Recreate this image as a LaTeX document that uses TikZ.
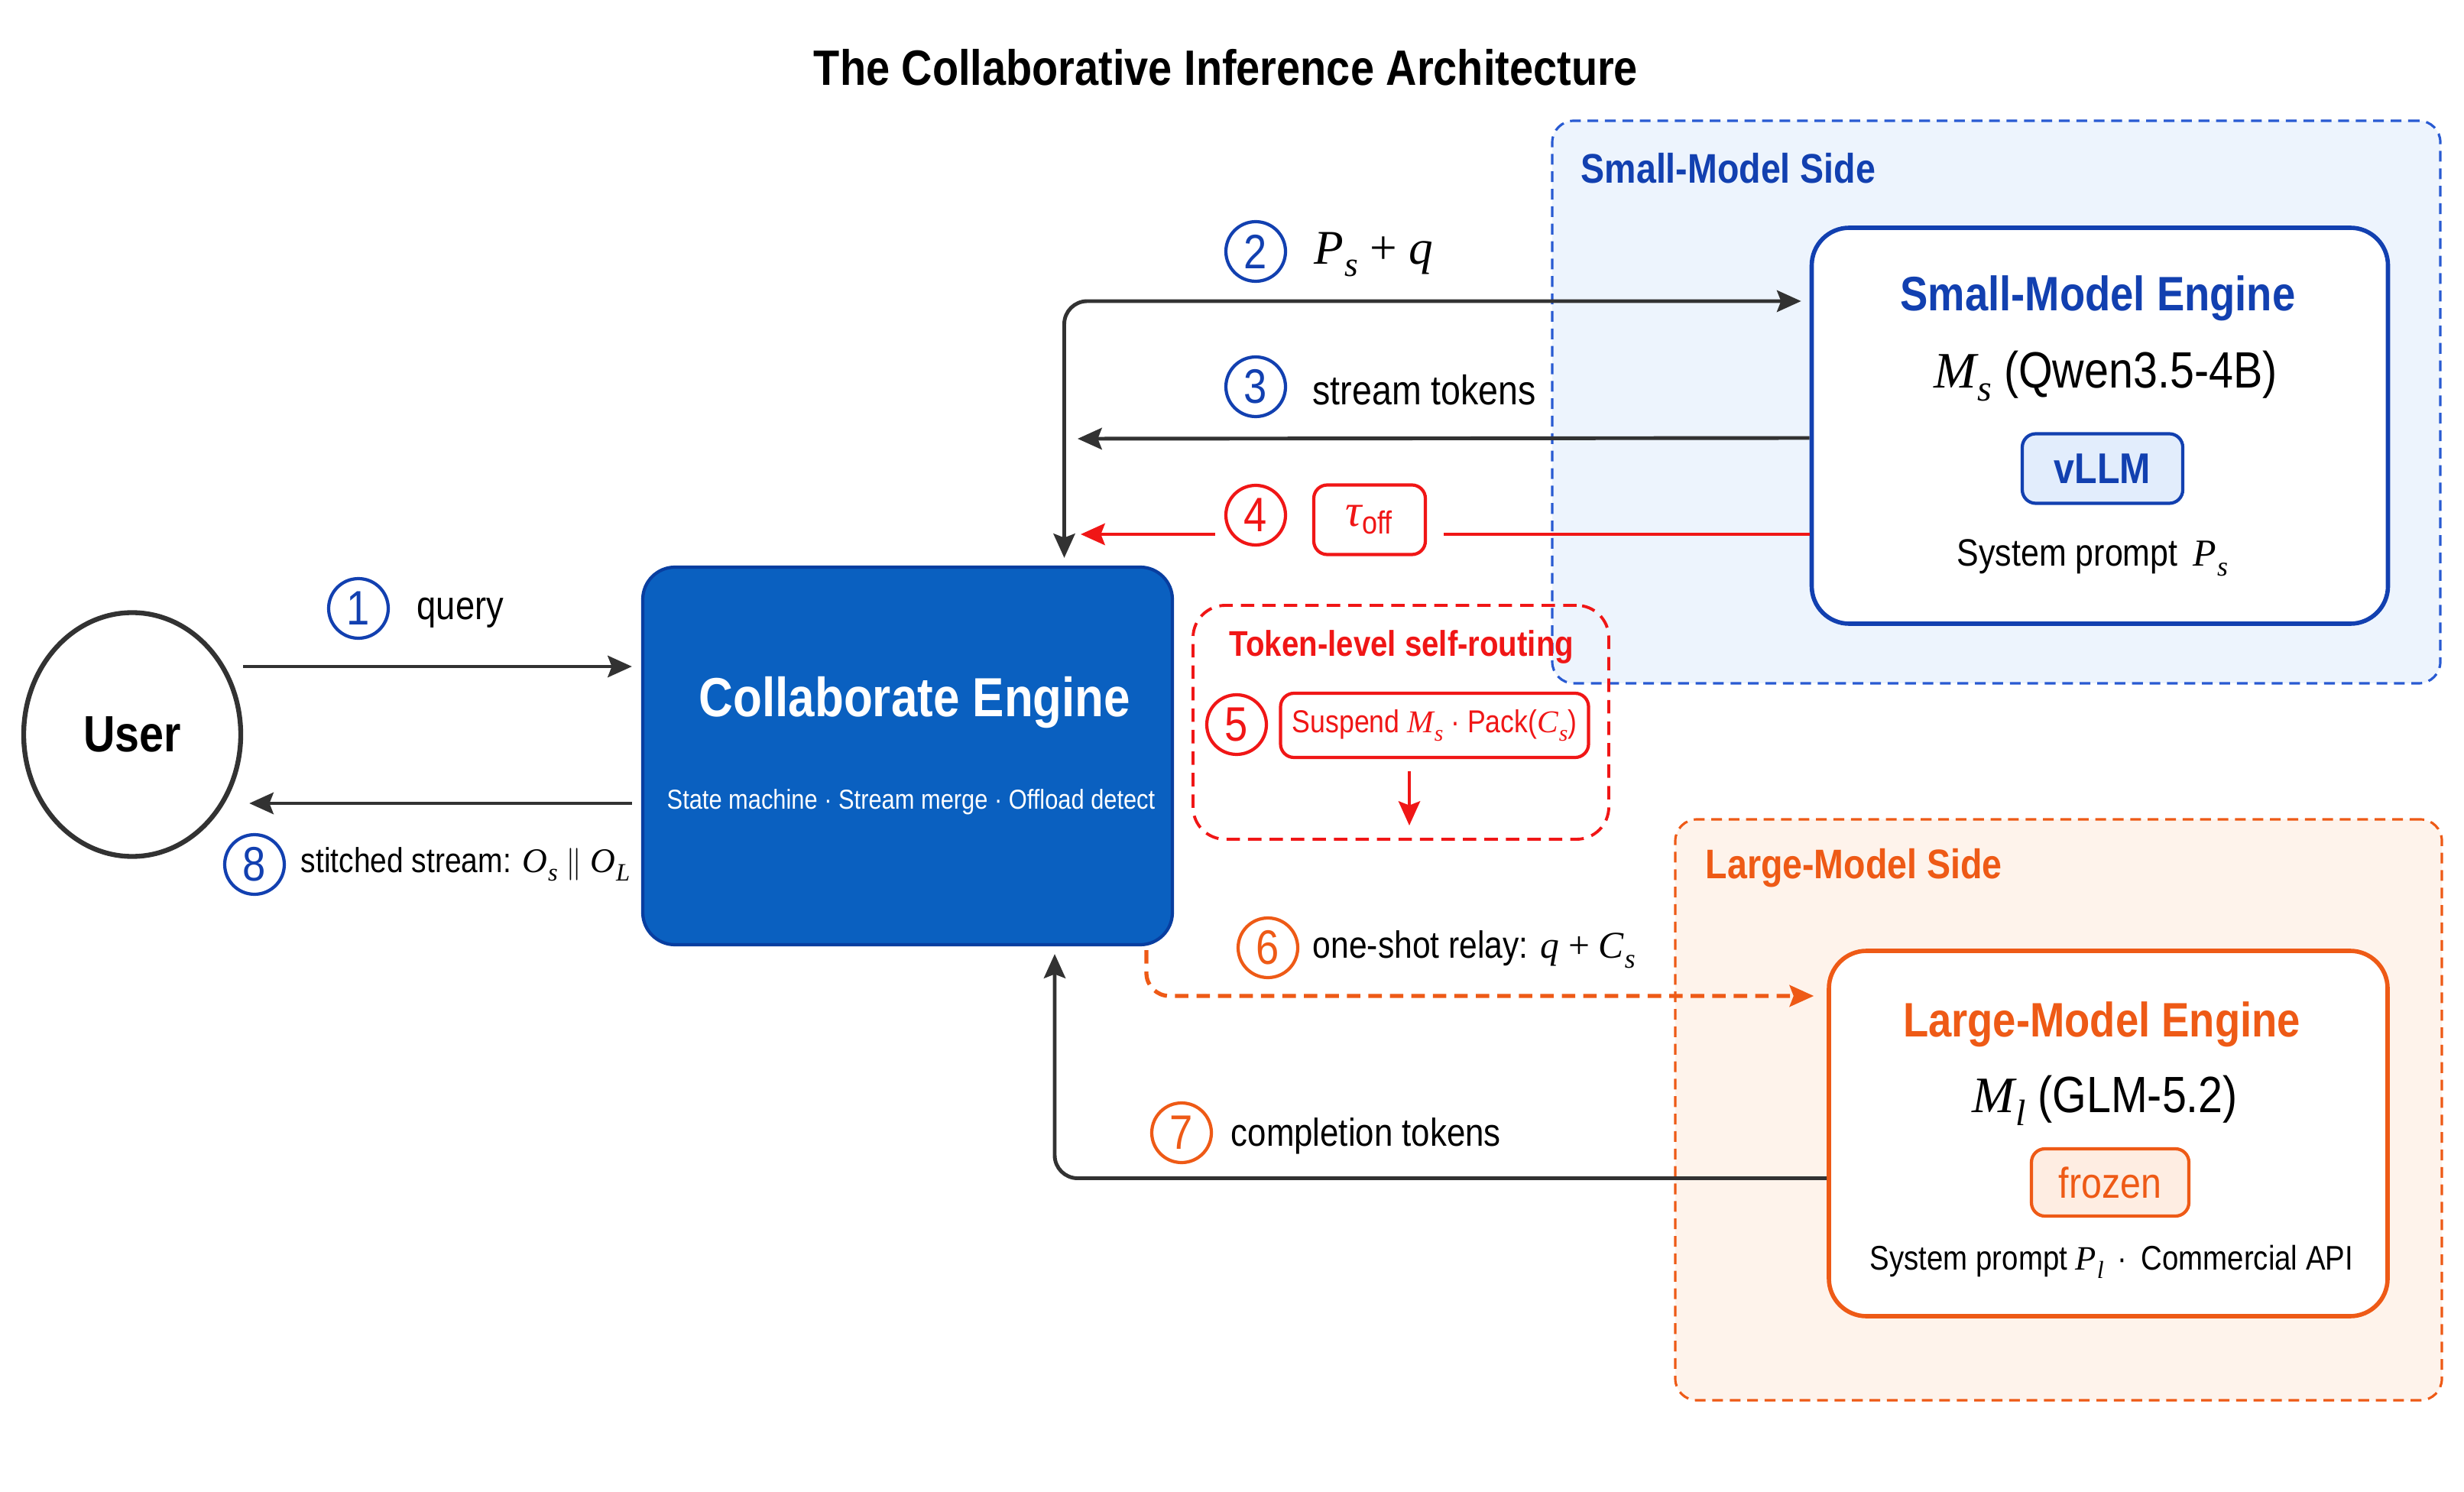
\documentclass[tikz,border=0pt]{standalone}
\usepackage{fontspec}
\setmainfont{Liberation Sans}[FakeStretch=0.86]
\newfontfamily\tms{Liberation Serif}
\definecolor{deepblue}{RGB}{18,64,176}
\definecolor{engblue}{RGB}{10,96,192}
\definecolor{engline}{RGB}{8,62,160}
\definecolor{skyfill}{RGB}{237,244,253}
\definecolor{sideblue}{RGB}{40,90,210}
\definecolor{chipblue}{RGB}{226,237,252}
\definecolor{flame}{RGB}{238,90,22}
\definecolor{peach}{RGB}{254,243,235}
\definecolor{chiporange}{RGB}{254,237,226}
\definecolor{alert}{RGB}{240,22,22}
\definecolor{ink}{RGB}{50,50,50}
\usetikzlibrary{arrows.meta,shapes.geometric,positioning,calc}
\newcommand{\mvar}[2]{{\tms\itshape #1\kern0.02em\raisebox{-0.55ex}{\scalebox{0.72}{#2}}}}
\newcommand{\fs}[1]{\fontsize{#1}{#1}\selectfont}

\begin{document}
\begin{tikzpicture}[
    arr/.style={draw=ink,line width=1.4pt,-{Stealth[length=9pt,width=8pt,inset=1.5pt]}},
    num/.style={circle,draw,line width=1.2pt,minimum size=0.78cm,inner sep=0pt,font=\fs{18}},
    lbl/.style={anchor=west,inner sep=0pt,font=\fs{15}},
    side/.style={dash pattern=on 4pt off 2.5pt,line width=0.9pt,rounded corners=8pt,inner sep=0pt},
    engine/.style={draw,fill=white,line width=1.6pt,rounded corners=14pt,inner sep=0pt},
    tag/.style={draw,line width=1.2pt,rounded corners=5pt,inner sep=0pt}]
  \useasboundingbox[fill=white] (0,0) rectangle (32.24,-19.52);
  \node[font=\bfseries\fs{18.5}] (title) at (16.04,-0.88)
    {The Collaborative Inference Architecture};
  % side regions
  \node[side,draw=sideblue,fill=skyfill,minimum width=11.62cm,minimum height=7.36cm]
    (smside) at (26.12,-5.26) {};
  \node[side,draw=flame,fill=peach,minimum width=10.03cm,minimum height=7.60cm]
    (lgside) at (26.935,-14.52) {};
  \node[anchor=west,inner sep=0pt,text=deepblue,font=\bfseries\fs{15.4}]
    (smsidetxt) at (20.68,-2.20) {Small-Model Side};
  \node[anchor=west,inner sep=0pt,text=flame,font=\bfseries\fs{15.4}]
    (lgsidetxt) at (22.31,-11.36) {Large-Model Side};
  % engines
  \node[engine,draw=deepblue,minimum width=7.54cm,minimum height=5.18cm]
    (small) at (27.475,-5.57) {};
  \node[text=deepblue,font=\bfseries\fs{18}] (smtitle) at (27.45,-3.90) {Small-Model Engine};
  \node[font=\fs{19}] (smname) at (27.55,-4.92) {\mvar{M}{s} (Qwen3.5-4B)};
  \node[tag,draw=deepblue,fill=chipblue,text=deepblue,font=\bfseries\fs{16},
    minimum width=2.10cm,minimum height=0.91cm] (vllm) at (27.51,-6.13) {vLLM};
  \node[font=\fs{14.2}] (smprompt) at (27.38,-7.30) {System prompt\, \mvar{P}{s}};
  \node[engine,draw=flame,minimum width=7.31cm,minimum height=4.78cm]
    (large) at (27.585,-14.83) {};
  \node[text=flame,font=\bfseries\fs{18}] (lgtitle) at (27.50,-13.40) {Large-Model Engine};
  \node[font=\fs{19}] (lgname) at (27.54,-14.40) {\mvar{M}{l} (GLM-5.2)};
  \node[tag,draw=flame,fill=chiporange,text=flame,font=\fs{16},
    minimum width=2.06cm,minimum height=0.88cm] (frozen) at (27.61,-15.47) {frozen};
  \node[font=\fs{12.7}] (lgprompt) at (27.63,-16.51)
    {System prompt \mvar{P}{l}\, · \,Commercial API};
  \node[draw=engline,fill=engblue,line width=1.2pt,rounded corners=12pt,inner sep=0pt,
    minimum width=6.93cm,minimum height=4.94cm] (engine) at (11.875,-9.89) {};
  \node[text=white,font=\bfseries\fs{20.5}] (engtitle) at (11.97,-9.19) {Collaborate Engine};
  \node[text=white,font=\fs{10.2}] (engsub) at (11.92,-10.49)
    {State machine · Stream merge · Offload detect};
  \node[ellipse,draw=ink,line width=1.8pt,inner sep=0pt,minimum width=2.84cm,
    minimum height=3.19cm,font=\bfseries\fs{19}] (user) at (1.73,-9.61) {User};
  % self-routing
  \node[draw=alert,dash pattern=on 5pt off 3pt,line width=1.1pt,rounded corners=12pt,
    minimum width=5.44cm,minimum height=3.06cm] (route) at (18.33,-9.45) {};
  \node[text=alert,font=\bfseries\fs{13.3}] (routetxt) at (18.34,-8.47) {Token-level self-routing};
  \node[num,draw=alert,text=alert] (c5) at (16.18,-9.48) {5};
  \node[tag,draw=alert,fill=white,text=alert,font=\fs{11.8},
    minimum width=4.03cm,minimum height=0.84cm] (suspend) at (18.77,-9.49)
    {Suspend \mvar{M}{s} · Pack(\mvar{C}{s})};
  \coordinate (rdown) at (18.44,-10.80);
  \draw[line width=1.3pt,alert,-{Stealth[length=9pt,width=8pt,inset=1.5pt]}]
    ([yshift=-0.16cm]suspend.south -| rdown) -- (rdown);
  % connectors
  \coordinate (in3) at (14.10,-5.74);
  \coordinate (in4) at (14.14,-6.99);
  \draw[arr] ([yshift=0.89cm]user.east) -- ([xshift=-0.12cm,yshift=1.17cm]engine.west);
  \draw[arr] ([xshift=-0.12cm,yshift=-0.62cm]engine.west) -- ([xshift=0.08cm,yshift=-0.90cm]user.east);
  \draw[arr,rounded corners=0.3cm,{Stealth[length=9pt,width=8pt,inset=1.5pt]}-{Stealth[length=9pt,width=8pt,inset=1.5pt]}]
    ([xshift=2.05cm,yshift=0.1cm]engine.north) |- ([xshift=-0.11cm,yshift=1.63cm]small.west);
  \draw[arr] ([yshift=-0.16cm]small.west) -- (in3);
  \node[num,draw=alert,text=alert] (c4) at (16.43,-6.74) {4};
  \node[tag,draw=alert,fill=white,text=alert,font=\fs{17},
    minimum width=1.46cm,minimum height=0.91cm] (tau) at (17.92,-6.80)
    {{\tms\itshape τ}\textsubscript{off}};
  \draw[line width=1.4pt,alert] ([yshift=-1.42cm]small.west) -- ([xshift=0.22cm]tau.east |- in4);
  \draw[line width=1.4pt,alert,-{Stealth[length=9pt,width=8pt,inset=1.5pt]}]
    ([xshift=-0.12cm]c4.west |- in4) -- (in4);
  \draw[line width=1.5pt,flame,dash pattern=on 5pt off 3pt,rounded corners=0.3cm,
    -{Stealth[length=9pt,width=8pt,inset=1.5pt]}]
    ([xshift=3.125cm,yshift=-0.05cm]engine.south) |- ([xshift=-0.17cm,yshift=1.80cm]large.west);
  \draw[arr,rounded corners=0.3cm]
    ([yshift=-0.585cm]large.west) -| ([xshift=1.925cm,yshift=-0.1cm]engine.south);
  % step labels
  \node[num,draw=deepblue,text=deepblue] (c1) at (4.69,-7.96) {1};
  \node[lbl] (q1) at (5.45,-8.02) {query};
  \node[num,draw=deepblue,text=deepblue] (c8) at (3.33,-11.31) {8};
  \node[lbl,font=\fs{12.9}] (q8) at (3.93,-11.31) {stitched stream: \mvar{O}{s} $\|$ \mvar{O}{L}};
  \node[num,draw=deepblue,text=deepblue] (c2) at (16.43,-3.29) {2};
  \node[lbl,font=\fs{18}] (q2) at (17.19,-3.33) {\mvar{P}{s} {\tms+} {\tms\itshape q}};
  \node[num,draw=deepblue,text=deepblue] (c3) at (16.43,-5.06) {3};
  \node[lbl,font=\fs{15.4}] (q3) at (17.17,-5.10) {stream tokens};
  \node[num,draw=flame,text=flame] (c6) at (16.59,-12.40) {6};
  \node[lbl,font=\fs{14.1}] (q6) at (17.17,-12.42) {one-shot relay: {\tms\itshape q} {\tms+} \mvar{C}{s}};
  \node[num,draw=flame,text=flame] (c7) at (15.46,-14.82) {7};
  \node[lbl,font=\fs{14.5}] (q7) at (16.10,-14.86) {completion tokens};
\end{tikzpicture}
\end{document}
